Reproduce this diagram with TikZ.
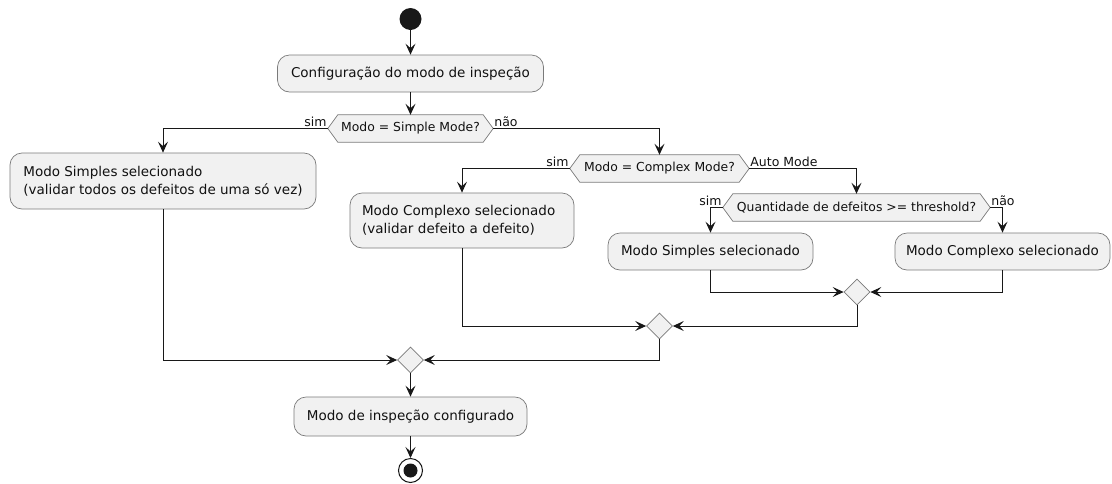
\documentclass[tikz,border=0pt]{standalone}
\usepackage{fontspec}
\setmainfont{DejaVu Sans}
\usetikzlibrary{arrows.meta,shapes.geometric,backgrounds}
\definecolor{boxfill}{HTML}{F1F1F1}
\definecolor{ink}{HTML}{181818}
\definecolor{frame}{HTML}{7A7A7A}
\definecolor{txt}{HTML}{111111}

\tikzset{
  act/.style={draw=frame, fill=boxfill, line width=0.7pt, rounded corners=12pt,
    inner xsep=10pt, inner ysep=0pt, text=txt,
    font=\fontsize{13.5}{18}\selectfont},
  hexa/.style={draw=none, inner sep=0pt, minimum height=27pt, text=txt,
    font=\fontsize{12.4}{14}\selectfont},
  merge/.style={diamond, draw=frame, fill=boxfill, line width=0.7pt,
    minimum width=26pt, minimum height=26pt, inner sep=0pt},
  flow/.style={draw=ink, line width=1pt,
    -{Stealth[length=11pt, width=10pt, inset=4.5pt]}},
  lbl/.style={inner sep=1pt, text=txt, font=\fontsize{12.5}{14}\selectfont}
}

% outline of a decision node: pointed on its west and east sides
\newcommand{\hexoutline}[1]{%
  \begin{scope}[on background layer]
    \path[draw=frame, fill=boxfill, line width=0.7pt]
      (#1.west) -- ([xshift=10pt]#1.north west) -- ([xshift=-10pt]#1.north east)
      -- (#1.east) -- ([xshift=-10pt]#1.south east) -- ([xshift=10pt]#1.south west)
      -- cycle;
  \end{scope}}

\begin{document}
\begin{tikzpicture}[x=1pt, y=-1pt]
  \useasboundingbox (0,0) rectangle (1112,483);

  % start
  \node[circle, fill=ink, minimum size=22pt, inner sep=0pt] (start) at (410.5,19) {};

  % actions
  \node[act, minimum width=266pt, minimum height=37pt] (config) at (410.5,73.5)
    {Configuração do modo de inspeção};
  \node[act, align=left, minimum width=306pt, minimum height=56pt] (simplesA) at (163,181)
    {Modo Simples selecionado\\(validar todos os defeitos de uma só vez)};
  \node[act, inner xsep=12pt, text width=200pt, align=left, minimum height=55pt] (complexoA) at (462,220.5)
    {Modo Complexo selecionado\\(validar defeito a defeito)};
  \node[act, minimum width=205pt, minimum height=37pt] (simplesB) at (710.5,251.5)
    {Modo Simples selecionado};
  \node[act, minimum width=215pt, minimum height=37pt] (complexoB) at (1002.5,251.5)
    {Modo Complexo selecionado};
  \node[act, minimum width=233pt, minimum height=39pt] (done) at (410.5,416.5)
    {Modo de inspeção configurado};

  % decisions
  \node[hexa, minimum width=165pt] (q1) at (410.5,128.5) {Modo = Simple Mode?};
  \hexoutline{q1}
  \node[hexa, minimum width=179pt] (q2) at (659.5,168.5) {Modo = Complex Mode?};
  \hexoutline{q2}
  \node[hexa, minimum width=267pt] (q3) at (856.5,207.5) {Quantidade de defeitos >= threshold?};
  \hexoutline{q3}

  % merges
  \node[merge] (m1) at (857,292) {};
  \node[merge] (m2) at (659.5,326) {};
  \node[merge] (m3) at (410.5,360) {};

  % end
  \node[circle, draw=ink, line width=1pt, fill=white, minimum size=24pt, inner sep=0pt] (stop) at (410.5,470.5) {};
  \node[circle, fill=ink, minimum size=14pt, inner sep=0pt] (stopdot) at (stop.center) {};

  % connectors
  \draw[flow] (start) -- (config);
  \draw[flow] (config) -- (q1);
  \draw[flow] (q1.west) -| (simplesA.north);
  \draw[flow] (q1.east) -| (q2.north);
  \draw[flow] (q2.west) -| (complexoA.north);
  \draw[flow] (q2.east) -| (q3.north);
  \draw[flow] (q3.west) -| (simplesB.north);
  \draw[flow] (q3.east) -| (complexoB.north);
  \draw[flow] (simplesB.south) |- (m1.west);
  \draw[flow] (complexoB.south) |- (m1.east);
  \draw[flow] (m1.south) |- (m2.east);
  \draw[flow] (complexoA.south) |- (m2.west);
  \draw[flow] (m2.south) |- (m3.east);
  \draw[flow] (simplesA.south) |- (m3.west);
  \draw[flow] (m3) -- (done);
  \draw[flow] (done) -- (stop);

  % branch labels
  \node[lbl, anchor=south east] (l1) at ([yshift=1pt]q1.west) {sim};
  \node[lbl, anchor=south west] (l2) at ([yshift=1pt]q1.east) {não};
  \node[lbl, anchor=south east] (l3) at ([yshift=1pt]q2.west) {sim};
  \node[lbl, anchor=south west] (l4) at ([yshift=1pt]q2.east) {Auto Mode};
  \node[lbl, anchor=south east] (l5) at ([yshift=1pt]q3.west) {sim};
  \node[lbl, anchor=south west] (l6) at ([yshift=1pt]q3.east) {não};
\end{tikzpicture}
\end{document}
